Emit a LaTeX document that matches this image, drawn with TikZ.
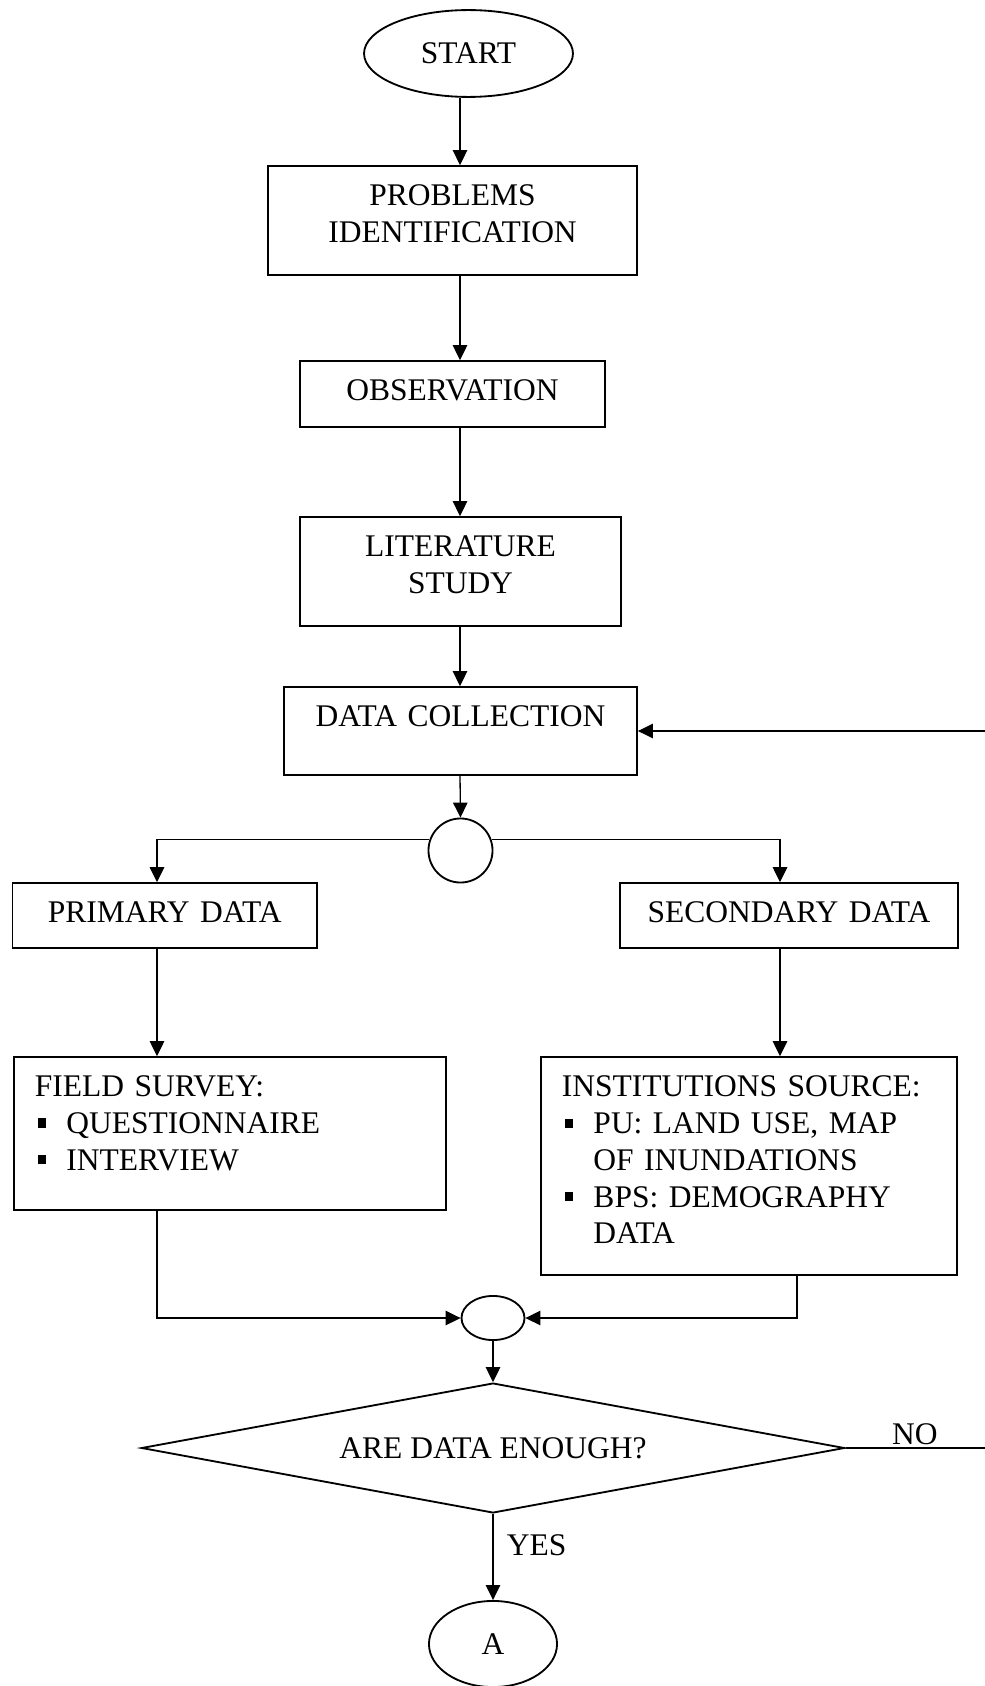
\documentclass[tikz,border=0pt]{standalone}
\usepackage{fontspec}
\setmainfont{Liberation Serif}
\usepackage{tikz}
\usetikzlibrary{shapes.geometric,arrows.meta}
\newcommand{\sqbul}{\makebox[12pt][l]{\hspace{1.3pt}\rule[2.3pt]{3pt}{3.5pt}}}   % square bullet

\begin{document}
\begin{tikzpicture}[x=0.381pt, y=-0.381pt,
        font=\fontsize{12}{14}\selectfont,
        box/.style={draw, rectangle, line width=.7pt, inner sep=0pt, text height=15.2pt, align=center},
        lbox/.style={box, inner xsep=8pt, align=left},
        oval/.style={draw, ellipse, line width=.7pt, inner sep=0pt},
        arr/.style={line width=.5pt, -{Triangle[length=5.7pt,width=5.5pt]}},
        lbl/.style={inner sep=1pt}]
    \useasboundingbox (0,0) rectangle (984,1686);
    % x of the vertical connectors
    \coordinate (spine) at (460,0);
    \coordinate (lcol) at (157,0);
    \coordinate (rcol) at (780,0);
    \coordinate (rdrop) at (797,0);
    \coordinate (loop) at (987,0);

    \node[oval, minimum width=79.6pt, minimum height=33.1pt] (start) at (468.5,53.5) {START};
    \node[box, text width=140.6pt, text depth=26.3pt] (prob) at (452.5,220.5) {PROBLEMS\\IDENTIFICATION};
    \node[box, text width=116.2pt, text depth=9.9pt] (obs) at (452.5,394) {OBSERVATION};
    \node[box, text width=122.3pt, text depth=26.3pt] (lit) at (460.5,571.5) {LITERATURE\\STUDY};
    \node[box, text width=134.5pt, text depth=18.3pt] (coll) at (460.5,731) {DATA COLLECTION};
    \node[draw, circle, line width=.7pt, minimum size=24.4pt, inner sep=0pt] (split) at (460.5,850.5) {};
    \node[box, text width=116pt, text depth=9.5pt] (prim) at (164.75,915.5) {PRIMARY DATA};
    \node[box, text width=128.8pt, text depth=9.5pt] (sec) at (789,915.5) {SECONDARY DATA};
    \node[lbox, text width=148.6pt, text depth=43.05pt] (field) at (230,1133.5)
        {FIELD SURVEY:\\ \sqbul QUESTIONNAIRE\\ \sqbul INTERVIEW};
    \node[lbox, text width=142.5pt, text depth=67.8pt] (inst) at (749,1166)
        {INSTITUTIONS SOURCE:\\ \sqbul PU: LAND USE, MAP\\ \hspace*{12pt}OF INUNDATIONS\\
         \sqbul BPS: DEMOGRAPHY\\ \hspace*{12pt}DATA};
    \node[oval, minimum width=24pt, minimum height=16.8pt] (merge) at (493,1318) {};
    \node[draw, diamond, line width=.7pt, inner sep=0pt, aspect=5.4,
          minimum width=267.9pt, minimum height=49.5pt] (dec) at (493,1448) {ARE DATA ENOUGH?};
    \node[oval, minimum width=48.8pt, minimum height=32.8pt] (endA) at (493,1644) {A};

    % main column
    \draw[arr] (start.south -| spine) -- (prob.north -| spine);
    \draw[arr] (prob.south -| spine) -- (obs.north -| spine);
    \draw[arr] (obs.south -| spine) -- (lit.north -| spine);
    \draw[arr] (lit.south -| spine) -- (coll.north -| spine);
    \draw[arr] (coll.south -| spine) -- (split.north);
    % branches
    \draw[arr] (split.161) -| (prim.north -| lcol);
    \draw[arr] (split.19) -| (sec.north -| rcol);
    \draw[arr] (prim.south -| lcol) -- (field.north -| lcol);
    \draw[arr] (sec.south -| rcol) -- (inst.north -| rcol);
    \draw[arr] (field.south -| lcol) |- (merge.west);
    \draw[arr] (inst.south -| rdrop) |- (merge.east);
    % decision
    \draw[arr] (merge.south) -- (dec.north);
    \draw[arr] (dec.south) -- node[lbl, right=4pt, pos=.36] (yes) {YES} (endA.north);
    \draw[arr] (dec.east) -- node[lbl, above, pos=.49] (no) {NO} (dec.east -| loop) |- (coll.east);
\end{tikzpicture}
\end{document}
